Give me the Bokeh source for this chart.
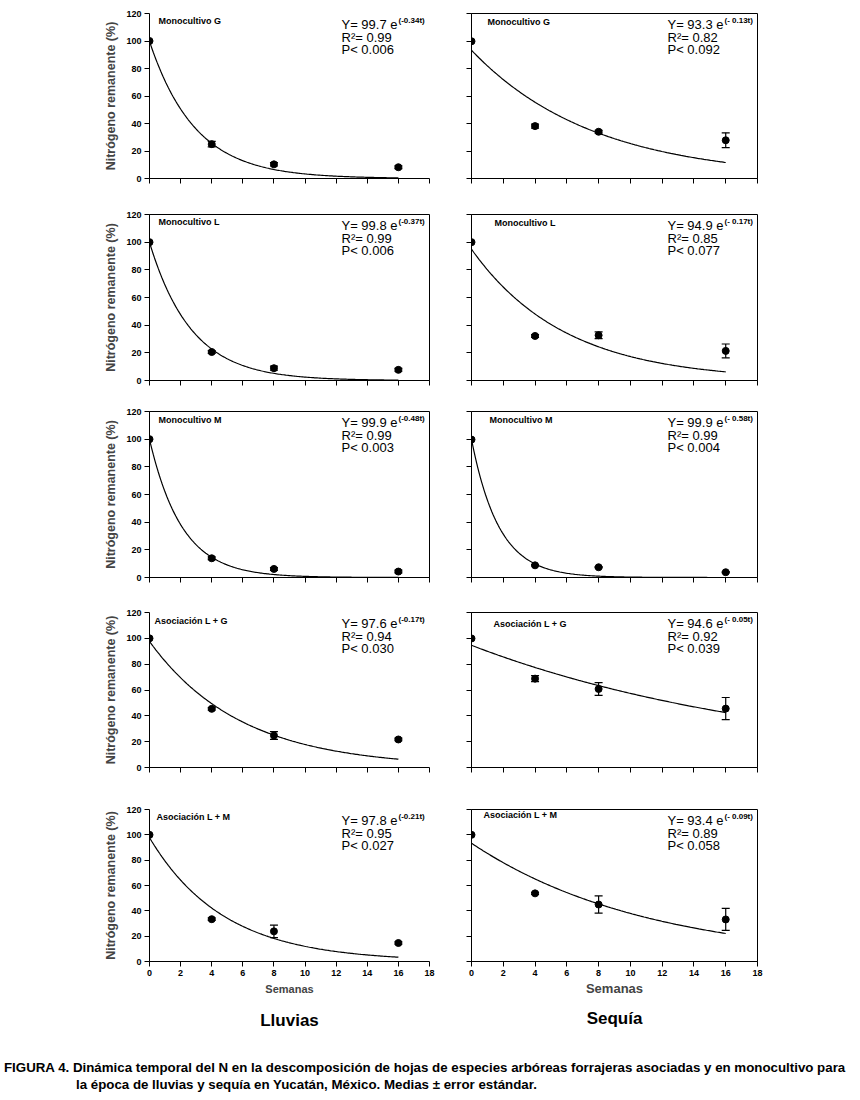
import numpy as np
from bokeh.plotting import figure
from bokeh.layouts import column, row
from bokeh.models import Label, Title, Div, Whisker, ColumnDataSource, FixedTicker, Range1d, TeeHead
from bokeh.embed import file_html
from bokeh.resources import INLINE

# ---------------- data ----------------
weeks = [0, 4, 8, 16]
x_ticks = [0, 2, 4, 6, 8, 10, 12, 14, 16, 18]
y_ticks = [0, 20, 40, 60, 80, 100, 120]

panel_left = ["Monocultivo G", "Monocultivo L", "Monocultivo M", "Asociación L + G", "Asociación L + M"]
panel_right = ["Monocultivo G", "Monocultivo  L", "Monocultivo M", "Asociación L + G", "Asociación L + M"]

# Lluvias (rainy season): means and standard errors
ll_G = [100.0, 25.0, 10.3, 8.2]
ll_G_se = [0.0, 2.0, 1.2, 1.0]
ll_L = [100.0, 20.6, 8.9, 7.7]
ll_L_se = [0.0, 1.0, 1.5, 1.0]
ll_M = [100.0, 13.9, 6.2, 4.3]
ll_M_se = [0.0, 1.0, 1.0, 1.0]
ll_LG = [100.0, 45.4, 24.8, 21.7]
ll_LG_se = [0.0, 1.0, 3.0, 1.0]
ll_LM = [100.0, 33.4, 23.8, 14.6]
ll_LM_se = [0.0, 1.0, 4.9, 1.0]

# Sequía (dry season)
sq_G = [99.8, 38.1, 34.0, 27.8]
sq_G_se = [0.0, 1.5, 1.0, 5.4]
sq_L = [100.0, 32.2, 32.7, 21.4]
sq_L_se = [0.0, 1.0, 2.5, 5.0]
sq_M = [99.7, 8.8, 7.4, 3.8]
sq_M_se = [0.0, 0.5, 0.5, 0.5]
sq_LG = [99.9, 68.8, 60.8, 45.6]
sq_LG_se = [0.0, 2.3, 4.9, 8.6]
sq_LM = [100.0, 53.8, 45.0, 33.2]
sq_LM_se = [0.0, 0.8, 6.8, 8.7]

# fitted models Y = a e^(-k t)
ll_a = [99.7, 99.8, 99.9, 97.6, 97.8]
ll_k = [0.34, 0.37, 0.48, 0.17, 0.21]
sq_a = [93.3, 94.9, 99.9, 94.6, 93.4]
sq_k = [0.13, 0.17, 0.58, 0.05, 0.09]

ll_eq = ["Y= 99.7 e", "Y= 99.8 e", "Y= 99.9 e", "Y= 97.6 e", "Y= 97.8 e"]
ll_exp = ["(-0.34t)", "(-0.37t)", "(-0.48t)", "(-0.17t)", "(-0.21t)"]
ll_r2 = ["R²= 0.99", "R²= 0.99", "R²= 0.99", "R²= 0.94", "R²= 0.95"]
ll_p = ["P< 0.006", "P< 0.006", "P< 0.003", "P< 0.030", "P< 0.027"]

sq_eq = ["Y= 93.3 e", "Y= 94.9 e", "Y= 99.9 e", "Y= 94.6 e", "Y= 93.4 e"]
sq_exp = ["(- 0.13t)", "(- 0.17t)", "(- 0.58t)", "(- 0.05t)", "(- 0.09t)"]
sq_r2 = ["R²= 0.82", "R²= 0.85", "R²= 0.99", "R²= 0.92", "R²= 0.89"]
sq_p = ["P< 0.092", "P< 0.077", "P< 0.004", "P< 0.039", "P< 0.058"]

ll_means = [ll_G, ll_L, ll_M, ll_LG, ll_LM]
ll_ses = [ll_G_se, ll_L_se, ll_M_se, ll_LG_se, ll_LM_se]
sq_means = [sq_G, sq_L, sq_M, sq_LG, sq_LM]
sq_ses = [sq_G_se, sq_L_se, sq_M_se, sq_LG_se, sq_LM_se]

y_title = "Nitrógeno remanente (%)"
x_title = "Semanas"
season_left = "Lluvias"
season_right = "Sequía"
caption_1 = ("FIGURA 4. Dinámica temporal del N en la descomposición de hojas de especies "
             "arbóreas forrajeras asociadas y en monocultivo para")
caption_2 = "la época de lluvias y sequía en Yucatán, México. Medias ± error estándar."

# ---------------- layout ----------------
FONT = "Liberation Sans"
LW, RW = 280, 286           # frame widths
L_BL, L_BR = 149, 10
R_BL, R_BR = 32, 12
frame_h = [165, 166, 166, 155, 152]
b_top = [13, 18, 16, 18, 20]
b_bot = [18, 15, 17, 22, 82]
boxed_left = [False, True, True, False, False]
label_dx_left = [9, 9, 9, 5, 7]
label_dx_right = [16, 23, 18, 22, 12]
label_dy_left = [7, 7, 8, 8, 7]
label_dy_right = [8, 8, 8, 11, 5]


def add_text(p, fw, fh, dx, dy, text, size, bold=False, align="left"):
    x = dx / fw * 18.0
    y = 120.0 - dy / fh * 120.0
    p.add_layout(Label(x=x, y=y, text=text, text_font=FONT,
                       text_font_size=f"{size}px",
                       text_font_style="bold" if bold else "normal",
                       text_baseline="middle", text_align=align,
                       text_color="black"))


def make_panel(i, side):
    left = side == "left"
    fw = LW if left else RW
    fh = frame_h[i]
    bl, br = (L_BL, L_BR) if left else (R_BL, R_BR)
    p = figure(width=bl + fw + br, height=b_top[i] + fh + b_bot[i],
               x_range=Range1d(0, 18), y_range=Range1d(0, 120),
               output_backend="svg", toolbar_location=None,
               min_border_left=bl, min_border_right=br,
               min_border_top=b_top[i], min_border_bottom=b_bot[i])
    p.grid.visible = False
    p.background_fill_color = "white"
    p.border_fill_color = "white"
    boxed = boxed_left[i] if left else True
    p.outline_line_color = "black" if boxed else None
    p.outline_line_width = 1

    for ax in (p.xaxis[0], p.yaxis[0]):
        ax.axis_line_color = "black"
        ax.major_tick_line_color = "black"
        ax.major_tick_in = 0
        ax.major_tick_out = 5
        ax.minor_tick_line_color = None
        ax.major_label_text_font = FONT
        ax.major_label_text_font_style = "bold"
        ax.major_label_text_font_size = "9px"
        ax.major_label_text_color = "black"
        ax.major_label_standoff = 3
    p.xaxis[0].ticker = FixedTicker(ticks=x_ticks)
    p.yaxis[0].ticker = FixedTicker(ticks=y_ticks)

    if left:
        p.yaxis[0].axis_label = y_title
        p.yaxis[0].axis_label_text_font = FONT
        p.yaxis[0].axis_label_text_font_style = "bold"
        p.yaxis[0].axis_label_text_font_size = "12.5px"
        p.yaxis[0].axis_label_standoff = 5
    else:
        p.yaxis[0].major_label_text_color = None

    if i < 4:
        p.xaxis[0].major_label_text_color = None
    else:
        p.xaxis[0].axis_label = x_title
        p.xaxis[0].axis_label_text_font = FONT
        p.xaxis[0].axis_label_text_font_style = "bold"
        p.xaxis[0].axis_label_text_font_size = "11px" if left else "13px"
        p.xaxis[0].axis_label_standoff = 4 if left else 2
        t = Title(text=season_left if left else season_right, align="center",
                  text_font=FONT, text_font_style="bold", text_font_size="17px",
                  text_color="black", standoff=22 if left else 17)
        p.add_layout(t, "below")

    means = ll_means[i] if left else sq_means[i]
    ses = ll_ses[i] if left else sq_ses[i]
    a = ll_a[i] if left else sq_a[i]
    k = ll_k[i] if left else sq_k[i]

    tt = np.linspace(weeks[0], weeks[-1], 200)
    p.line(tt, a * np.exp(-k * tt), line_color="black", line_width=1.2)

    ex = [w for w, s in zip(weeks, ses) if s > 0]
    em = [m for m, s in zip(means, ses) if s > 0]
    es = [s for s in ses if s > 0]
    src = ColumnDataSource(dict(x=ex, lo=[m - s for m, s in zip(em, es)],
                                hi=[m + s for m, s in zip(em, es)]))
    wh = Whisker(base="x", lower="lo", upper="hi", source=src, line_color="black",
                 line_width=1.2,
                 upper_head=TeeHead(size=8, line_color="black", line_width=1.2),
                 lower_head=TeeHead(size=8, line_color="black", line_width=1.2))
    p.add_layout(wh)
    p.scatter(weeks, means, marker="circle", size=7, fill_color="black", line_color="black")

    # text
    name = panel_left[i] if left else panel_right[i]
    add_text(p, fw, fh, label_dx_left[i] if left else label_dx_right[i],
             label_dy_left[i] if left else label_dy_right[i], name, 9, bold=True)
    eqx = 192 if left else 196
    supx = 249 if left else 253
    eq = ll_eq[i] if left else sq_eq[i]
    ex_t = ll_exp[i] if left else sq_exp[i]
    r2 = ll_r2[i] if left else sq_r2[i]
    pv = ll_p[i] if left else sq_p[i]
    add_text(p, fw, fh, eqx, 11, eq, 13)
    add_text(p, fw, fh, supx, 7, ex_t, 8, bold=True)
    add_text(p, fw, fh, eqx, 24, r2, 13)
    add_text(p, fw, fh, eqx, 36, pv, 13)
    return p


rows = []
for i in range(5):
    rows.append(row(make_panel(i, "left"), make_panel(i, "right")))

caption = Div(text=(
    '<div style="font-family:\'Liberation Sans Narrow\',\'Liberation Sans\',Arial,sans-serif;'
    'font-weight:bold;font-size:13.3px;line-height:17px;color:#000;white-space:nowrap;'
    'margin-left:-1px;padding-top:11px;padding-left:72px;text-indent:-72px;">'
    + caption_1 + '<br>' + caption_2 + '</div>'),
    width=855, height=50)

layout = column(*rows, caption)
open("out.html", "w").write(file_html(layout, INLINE))
